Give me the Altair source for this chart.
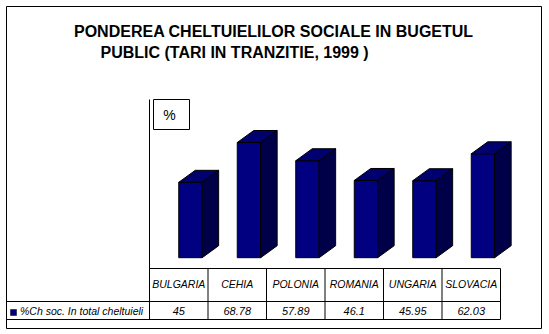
import altair as alt
import pandas as pd

# ---------------- data ----------------
countries = ["BULGARIA", "CEHIA", "POLONIA", "ROMANIA", "UNGARIA", "SLOVACIA"]
values = [45, 68.78, 57.89, 46.1, 45.95, 62.03]
value_labels = ["45", "68.78", "57.89", "46.1", "45.95", "62.03"]
series_name = "%Ch soc. In total cheltuieli"
title_lines = ["PONDEREA CHELTUIELILOR SOCIALE IN BUGETUL",
               "PUBLIC (TARI IN TRANZITIE, 1999 )"]
unit_label = "%"

# ---------------- layout / style ----------------
W, H = 549, 334
AXIS_X = 149.5        # pixel x where the category axis starts
CAT_W = 58.5          # pixel width of one category
BASE_Y = 257.7        # pixel y of value 0
PX_PER_UNIT = 1.675   # pixels per value unit
DEPTH_X = 16.5 / CAT_W
DEPTH_Y = 12 / PX_PER_UNIT
BAR_L, BAR_R = 0.5, 0.9

FRONT = "#000080"
TOP = "#00006e"
SIDE = "#000048"
FONT = "Liberation Sans"

TABLE_TOP, ROW_DIV, TABLE_BOT = 268.5, 301.5, 319.5
LEGEND_LEFT_U = (6.5 - AXIS_X) / CAT_W

x_dom = [-AXIS_X / CAT_W, (W - AXIS_X) / CAT_W]
y_dom = [-(H - BASE_Y) / PX_PER_UNIT, BASE_Y / PX_PER_UNIT]
xs = alt.Scale(domain=x_dom, nice=False, zero=False)
ys = alt.Scale(domain=y_dom, nice=False, zero=False)


def X(f):
    return alt.X(f, type="quantitative", scale=xs, axis=None, stack=False)


def Y(f):
    return alt.Y(f, type="quantitative", scale=ys, axis=None, stack=False)


n = len(countries)
front_df = pd.DataFrame({
    "cat": countries,
    "xl": [i + BAR_L for i in range(n)],
    "xr": [i + BAR_R for i in range(n)],
    "v": values,
    "zero": [0] * n,
})

side_rows, top_rows = [], []
for i, (c, v) in enumerate(zip(countries, values)):
    xr = i + BAR_R
    xl = i + BAR_L
    side_rows.append({"cat": c, "x": xr, "y": v, "y2": 0})
    side_rows.append({"cat": c, "x": xr + DEPTH_X, "y": v + DEPTH_Y, "y2": DEPTH_Y})
    top_rows.append({"cat": c, "y": v, "x": xl, "x2": xr})
    top_rows.append({"cat": c, "y": v + DEPTH_Y, "x": xl + DEPTH_X, "x2": xr + DEPTH_X})
side_df = pd.DataFrame(side_rows)
top_df = pd.DataFrame(top_rows)

one = alt.Data(values=[{"k": 0}])

# outer frame
frame = alt.Chart(one).mark_rect(fill="white", stroke="black", strokeWidth=1).encode(
    x=alt.value(6.5), x2=alt.value(541.5), y=alt.value(6.5), y2=alt.value(328.5))

# titles
t1 = alt.Chart(alt.Data(values=[{"t": title_lines[0]}])).mark_text(
    font=FONT, fontSize=16, fontWeight="bold", align="left", baseline="alphabetic", color="black"
).encode(text="t:N", x=alt.value(74), y=alt.value(37))
t2 = alt.Chart(alt.Data(values=[{"t": title_lines[1]}])).mark_text(
    font=FONT, fontSize=16, fontWeight="bold", align="left", baseline="alphabetic", color="black"
).encode(text="t:N", x=alt.value(100.5), y=alt.value(58))

# unit box
unit_box = alt.Chart(one).mark_rect(fill="white", stroke="black", strokeWidth=1).encode(
    x=alt.value(153.5), x2=alt.value(189.5), y=alt.value(99.5), y2=alt.value(129.5))
unit_txt = alt.Chart(alt.Data(values=[{"t": unit_label}])).mark_text(
    font=FONT, fontSize=14, align="center", baseline="alphabetic", color="black"
).encode(text="t:N", x=alt.value(169.5), y=alt.value(120))

# bars
front = alt.Chart(front_df).mark_rect(fill=FRONT, stroke="black", strokeWidth=1).encode(
    x=X("xl"), x2="xr", y=Y("zero"), y2="v")
side = alt.Chart(side_df).mark_area(orient="vertical", fill=SIDE, stroke="black",
                                    strokeWidth=1, interpolate="linear").encode(
    x=X("x"), y=Y("y"), y2="y2", detail="cat:N")
top = alt.Chart(top_df).mark_area(orient="horizontal", fill=TOP, stroke="black",
                                  strokeWidth=1, interpolate="linear").encode(
    y=Y("y"), x=X("x"), x2="x2", detail="cat:N")

# axis and table lines
axis_v = alt.Chart(alt.Data(values=[{"b": 0}])).mark_rule(color="black", strokeWidth=1).encode(
    x=X("b:Q"), y=alt.value(99.5), y2=alt.value(TABLE_BOT))
grid_v = alt.Chart(alt.Data(values=[{"b": i} for i in range(1, n + 1)])).mark_rule(
    color="black", strokeWidth=1).encode(
    x=X("b:Q"), y=alt.value(TABLE_TOP), y2=alt.value(TABLE_BOT))
table_top = alt.Chart(alt.Data(values=[{"a": 0, "b": n}])).mark_rule(color="black", strokeWidth=1).encode(
    x=X("a:Q"), x2="b:Q", y=alt.value(TABLE_TOP))
row_div = alt.Chart(alt.Data(values=[{"a": LEGEND_LEFT_U, "b": n}])).mark_rule(color="black", strokeWidth=1).encode(
    x=X("a:Q"), x2="b:Q", y=alt.value(ROW_DIV))
table_bot = alt.Chart(alt.Data(values=[{"a": LEGEND_LEFT_U, "b": n}])).mark_rule(color="black", strokeWidth=1).encode(
    x=X("a:Q"), x2="b:Q", y=alt.value(TABLE_BOT))

# table texts
lab_df = pd.DataFrame({"c": [i + 0.5 for i in range(n)], "name": countries, "val": value_labels})
cat_txt = alt.Chart(lab_df).mark_text(
    font=FONT, fontSize=10.5, fontStyle="italic", align="center", baseline="alphabetic", color="black"
).encode(x=X("c"), y=alt.value(288), text="name:N")
val_txt = alt.Chart(lab_df).mark_text(
    font=FONT, fontSize=11, fontStyle="italic", align="center", baseline="alphabetic", color="black"
).encode(x=X("c"), y=alt.value(315), text="val:N")

leg_sq = alt.Chart(one).mark_rect(fill=FRONT, stroke="black", strokeWidth=0.5).encode(
    x=alt.value(10.5), x2=alt.value(16.5), y=alt.value(309.5), y2=alt.value(315.5))
leg_txt = alt.Chart(alt.Data(values=[{"t": series_name}])).mark_text(
    font=FONT, fontSize=10.5, fontStyle="italic", align="left", baseline="alphabetic", color="black"
).encode(x=alt.value(20), y=alt.value(315), text="t:N")

chart = alt.layer(
    frame, t1, t2, unit_box, unit_txt,
    front, top, side,
    axis_v, grid_v, table_top, row_div, table_bot,
    cat_txt, val_txt, leg_sq, leg_txt,
).properties(
    width=W, height=H, autosize=alt.AutoSizeParams(type="none"), padding=0,
    background="white",
).configure_view(strokeWidth=0)

chart.save("out.html", embed_options={"renderer": "svg", "actions": False})
